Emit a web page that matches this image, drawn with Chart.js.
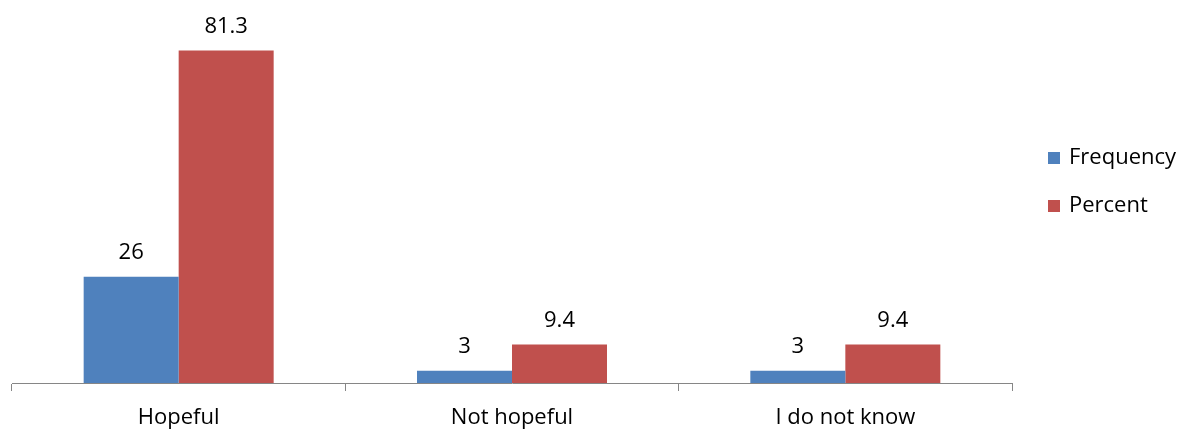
<!DOCTYPE html>
<html>
<head>
<meta charset="utf-8">
<script src="https://cdn.jsdelivr.net/npm/chart.js@4.4.1/dist/chart.umd.min.js"></script>
<style>
  html, body { margin: 0; padding: 0; background: #ffffff; }
  #wrap { width: 1199px; height: 432px; }
</style>
</head>
<body>
<div id="wrap"><canvas id="c" width="1199" height="432"></canvas></div>
<script>
const categories = ['Hopeful', 'Not hopeful', 'I do not know'];
const frequency = [26, 3, 3];
const percent = [81.3, 9.4, 9.4];
const seriesNames = ['Frequency', 'Percent'];

const FONT = '"Open Sans", sans-serif';
const AXIS_GREY = '#868686';

// Value labels above each bar
const valueLabels = {
  id: 'valueLabels',
  afterDatasetsDraw(chart) {
    const ctx = chart.ctx;
    ctx.save();
    ctx.font = '22px ' + FONT;
    ctx.fillStyle = '#000000';
    ctx.textAlign = 'center';
    ctx.textBaseline = 'alphabetic';
    chart.data.datasets.forEach((ds, i) => {
      chart.getDatasetMeta(i).data.forEach((bar, j) => {
        ctx.fillText(String(ds.data[j]), bar.x, bar.y - 18);
      });
    });
    ctx.restore();
  }
};

// Legend on the right, square swatches
const sideLegend = {
  id: 'sideLegend',
  afterDraw(chart) {
    const ctx = chart.ctx;
    ctx.save();
    ctx.font = '22px ' + FONT;
    ctx.textAlign = 'left';
    ctx.textBaseline = 'alphabetic';
    chart.data.datasets.forEach((ds, i) => {
      const baseY = 164 + i * 48;
      ctx.fillStyle = ds.backgroundColor;
      ctx.fillRect(1048, baseY - 12, 12, 12);
      ctx.fillStyle = '#000000';
      ctx.fillText(ds.label, 1069, baseY);
    });
    ctx.restore();
  }
};

new Chart(document.getElementById('c'), {
  type: 'bar',
  data: {
    labels: categories,
    datasets: [
      { label: seriesNames[0], data: frequency, backgroundColor: '#4F81BD', borderWidth: 0 },
      { label: seriesNames[1], data: percent, backgroundColor: '#C0504D', borderWidth: 0 }
    ]
  },
  options: {
    responsive: false,
    animation: false,
    devicePixelRatio: 1,
    layout: { padding: { left: 12, right: 187, top: 15, bottom: 0 } },
    categoryPercentage: 0.57,
    barPercentage: 1.0,
    plugins: {
      legend: { display: false },
      tooltip: { enabled: false }
    },
    scales: {
      x: {
        offset: true,
        afterFit(scale) { scale.height = 49; },
        grid: {
          offset: true,
          drawOnChartArea: false,
          drawTicks: true,
          tickLength: 8,
          color: AXIS_GREY,
          lineWidth: 1
        },
        border: { display: true, color: AXIS_GREY, width: 1 },
        ticks: {
          color: '#000000',
          font: { family: FONT, size: 22 },
          padding: 14,
          maxRotation: 0
        }
      },
      y: {
        display: false,
        min: 0,
        max: 90
      }
    }
  },
  plugins: [valueLabels, sideLegend]
});
</script>
</body>
</html>
